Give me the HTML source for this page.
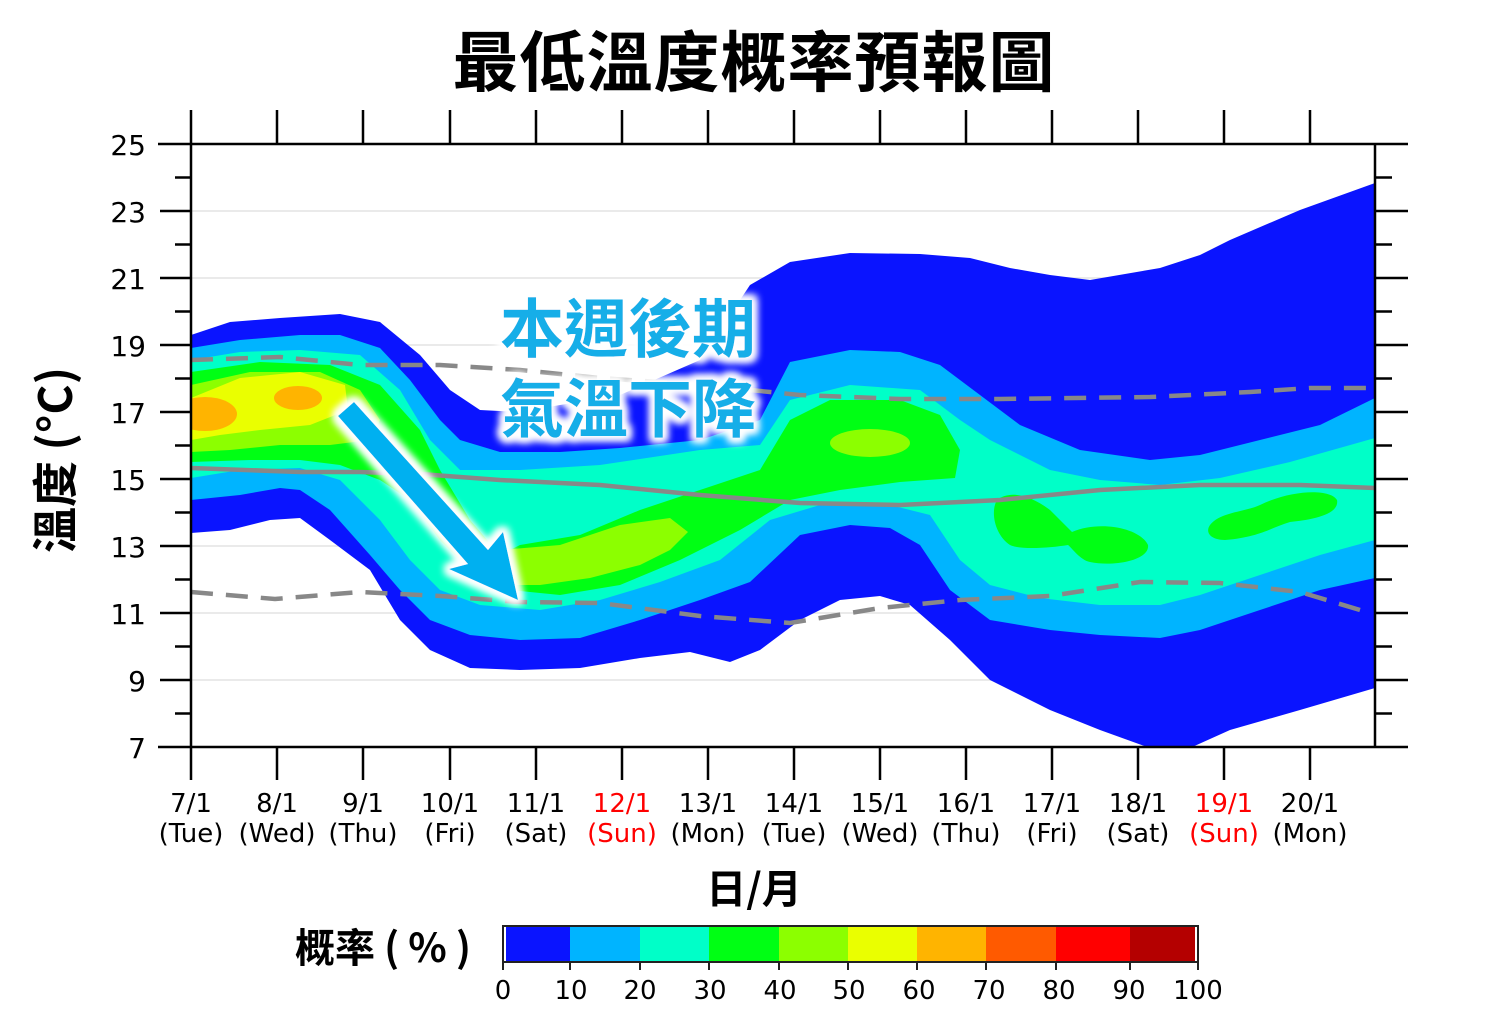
<!DOCTYPE html>
<html><head><meta charset="utf-8"><style>
body{margin:0;background:#fff;width:1508px;height:1018px;overflow:hidden}
svg{display:block}
text{font-family:"DejaVu Sans","Liberation Sans","Noto Sans CJK TC",sans-serif}
.cjk{font-family:"Noto Sans CJK TC","WenQuanYi Zen Hei",sans-serif}
</style></head><body>
<svg width="1508" height="1018" viewBox="0 0 1508 1018" xmlns="http://www.w3.org/2000/svg">
<defs>
<filter id="glow" x="-20%" y="-20%" width="140%" height="140%">
<feMorphology in="SourceAlpha" operator="dilate" radius="4" result="d"/>
<feGaussianBlur in="d" stdDeviation="4" result="b"/>
<feFlood flood-color="#fff"/><feComposite in2="b" operator="in" result="w"/>
<feMerge><feMergeNode in="w"/><feMergeNode in="w"/><feMergeNode in="SourceGraphic"/></feMerge>
</filter>
<clipPath id="pc"><rect x="191" y="144" width="1184" height="603"/></clipPath>
</defs>
<text x="754" y="86" text-anchor="middle" class="cjk" font-size="66" font-weight="bold" letter-spacing="1">最低溫度概率預報圖</text>
<g stroke="#e4e4e4" stroke-width="1.5">
<line x1="191" x2="1375" y1="211" y2="211"/><line x1="191" x2="1375" y1="278" y2="278"/><line x1="191" x2="1375" y1="345" y2="345"/><line x1="191" x2="1375" y1="412" y2="412"/><line x1="191" x2="1375" y1="479" y2="479"/><line x1="191" x2="1375" y1="546" y2="546"/><line x1="191" x2="1375" y1="613" y2="613"/><line x1="191" x2="1375" y1="680" y2="680"/>
</g>
<g clip-path="url(#pc)">
<path fill="#0a14ff" d="M191,335 L230,322 280,318 340,314 380,322 420,355 450,390 480,410 520,412 560,405 620,395 700,360 750,285 790,262 850,253 920,254 970,258 1010,268 1050,275 1090,280 1160,268 1200,255 1230,240 1300,210 1375,183 L1375,688 1300,710 1230,730 1190,748 1150,748 1100,730 1050,710 990,680 950,640 910,605 880,596 840,600 800,620 760,650 730,662 690,652 640,658 580,668 520,670 470,668 430,650 400,620 370,570 330,540 300,518 270,520 230,530 191,533 Z"/>
<path fill="#00b4ff" d="M191,348 L240,340 300,335 340,335 380,348 410,380 440,420 460,440 500,452 560,452 620,448 700,440 760,420 790,362 850,350 900,352 940,365 980,395 1020,425 1080,450 1150,460 1200,455 1260,440 1320,425 1375,398 L1375,578 1320,590 1260,610 1200,630 1160,638 1100,635 1050,630 990,620 950,590 920,545 890,528 850,525 800,535 750,582 700,600 640,620 580,638 520,640 470,635 430,620 400,590 370,555 330,510 300,490 280,488 240,495 191,500 Z"/>
<path fill="#00ffc8" d="M191,360 L240,352 300,350 360,355 400,390 430,440 460,470 520,470 600,465 700,450 760,445 790,400 850,385 920,390 960,420 990,440 1050,470 1100,480 1160,485 1220,478 1290,462 1375,438 L1375,540 1320,555 1260,575 1200,595 1160,605 1100,605 1040,598 990,585 960,560 930,515 890,505 820,505 770,520 720,560 660,582 600,600 540,610 480,605 440,590 410,560 380,520 340,480 300,468 240,470 191,478 Z"/>
<path fill="#00ff14" d="M191,372 L260,362 330,365 380,385 420,430 440,470 470,520 500,555 520,545 580,535 640,510 700,490 760,470 790,420 830,400 900,400 940,415 960,450 955,478 900,482 840,490 790,500 740,530 680,560 620,585 560,595 510,590 470,570 440,540 410,500 380,480 340,465 300,460 250,460 191,462 Z"/>
<path fill="#00ff14" d="M997,500 C1010,490 1030,495 1050,510 L1072,532 C1100,520 1140,528 1148,545 C1150,560 1115,567 1090,562 C1080,560 1072,548 1068,545 C1050,548 1020,550 1010,545 C995,535 990,512 997,500 Z"/>
<path fill="#00ff14" d="M1210,525 C1220,512 1245,512 1260,505 C1290,490 1330,488 1337,500 C1340,515 1310,520 1290,522 C1270,528 1260,537 1225,540 C1210,540 1205,532 1210,525 Z"/>
<path fill="#8cff00" d="M191,385 L250,372 320,372 360,390 380,420 370,440 330,445 280,445 230,450 191,452 Z"/>
<path fill="#8cff00" d="M500,550 L560,545 620,525 670,518 688,532 670,550 640,565 590,578 540,585 510,585 Z"/>
<ellipse cx="870" cy="443" rx="40" ry="14" fill="#8cff00"/>
<path fill="#eaff00" d="M191,398 L240,378 300,372 345,385 348,410 310,425 260,430 220,435 191,440 Z"/>
<ellipse cx="205" cy="414" rx="32" ry="17" fill="#ffb400"/>
<ellipse cx="298" cy="398" rx="24" ry="12" fill="#ffb400"/>
<g fill="none" stroke="#888" stroke-width="4.5">
<polyline points="191,468 300,472 360,472 420,474 500,480 600,485 700,495 800,503 900,505 1000,500 1100,490 1200,485 1300,485 1375,488"/>
<polyline stroke-dasharray="22,13" points="191,360 280,357 360,365 440,365 520,370 600,378 700,385 800,395 900,399 1000,399 1150,397 1250,392 1310,388 1375,388"/>
<polyline stroke-dasharray="22,13" points="191,592 275,599 360,592 440,596 520,602 600,603 700,616 790,623 880,608 960,600 1050,596 1140,582 1220,583 1300,592 1360,610"/>
</g>
</g>
<g filter="url(#glow)">
<polygon fill="#00b0f0" points="338,416 354,402 488,550 503,532 518,600 449,569 468,564" />
</g>
<g class="cjk" font-size="64" font-weight="bold" fill="#14aee8" filter="url(#glow)">
<text x="500" y="352" class="cjk">本週後期</text>
<text x="500" y="432" class="cjk">氣溫下降</text>
</g>
<g stroke="#000" stroke-width="2.5" fill="none">
<line x1="191" y1="144" x2="191" y2="747"/>
<line x1="1375" y1="144" x2="1375" y2="747"/>
<line x1="158" y1="144" x2="1408" y2="144"/>
<line x1="158" y1="747" x2="1408" y2="747"/>
</g>
<g stroke="#000" stroke-width="2.5">
<path d="M160,211H191M160,278H191M160,345H191M160,412H191M160,479H191M160,546H191M160,613H191M160,680H191"/>
<path d="M1375,211H1408M1375,278H1408M1375,345H1408M1375,412H1408M1375,479H1408M1375,546H1408M1375,613H1408M1375,680H1408"/>
<path d="M175,177.5H191M175,244.5H191M175,311.5H191M175,378.5H191M175,445.5H191M175,512.5H191M175,579.5H191M175,646.5H191M175,713.5H191"/>
<path d="M1375,177.5H1392M1375,244.5H1392M1375,311.5H1392M1375,378.5H1392M1375,445.5H1392M1375,512.5H1392M1375,579.5H1392M1375,646.5H1392M1375,713.5H1392"/>
<path d="M191,110V144M277,110V144M363,110V144M450,110V144M536,110V144M622,110V144M708,110V144M794,110V144M880,110V144M966,110V144M1052,110V144M1138,110V144M1224,110V144M1310,110V144"/>
<path d="M191,747V780M277,747V780M363,747V780M450,747V780M536,747V780M622,747V780M708,747V780M794,747V780M880,747V780M966,747V780M1052,747V780M1138,747V780M1224,747V780M1310,747V780"/>
</g>
<g font-size="28" text-anchor="end">
<text x="146" y="155">25</text><text x="146" y="222">23</text><text x="146" y="289">21</text><text x="146" y="356">19</text><text x="146" y="423">17</text><text x="146" y="490">15</text><text x="146" y="557">13</text><text x="146" y="624">11</text><text x="146" y="691">9</text><text x="146" y="758">7</text>
</g>
<g font-size="26" text-anchor="middle">
<text x="191" y="812">7/1</text><text x="191" y="842">(Tue)</text>
<text x="277" y="812">8/1</text><text x="277" y="842">(Wed)</text>
<text x="363" y="812">9/1</text><text x="363" y="842">(Thu)</text>
<text x="450" y="812">10/1</text><text x="450" y="842">(Fri)</text>
<text x="536" y="812">11/1</text><text x="536" y="842">(Sat)</text>
<text x="622" y="812" fill="#f00">12/1</text><text x="622" y="842" fill="#f00">(Sun)</text>
<text x="708" y="812">13/1</text><text x="708" y="842">(Mon)</text>
<text x="794" y="812">14/1</text><text x="794" y="842">(Tue)</text>
<text x="880" y="812">15/1</text><text x="880" y="842">(Wed)</text>
<text x="966" y="812">16/1</text><text x="966" y="842">(Thu)</text>
<text x="1052" y="812">17/1</text><text x="1052" y="842">(Fri)</text>
<text x="1138" y="812">18/1</text><text x="1138" y="842">(Sat)</text>
<text x="1224" y="812" fill="#f00">19/1</text><text x="1224" y="842" fill="#f00">(Sun)</text>
<text x="1310" y="812">20/1</text><text x="1310" y="842">(Mon)</text>
</g>
<text x="754" y="903" text-anchor="middle" font-size="40" font-weight="bold" class="cjk">日/月</text>
<text transform="translate(72,460) rotate(-90)" text-anchor="middle" font-size="46" font-weight="bold" class="cjk">溫度 (°C)</text>
<text x="295" y="962" font-size="40" font-weight="bold" class="cjk">概率 ( % )</text>
<g>
<rect x="506" y="927" width="64" height="35" fill="#0a14ff"/>
<rect x="570" y="927" width="70" height="35" fill="#00b4ff"/>
<rect x="640" y="927" width="69" height="35" fill="#00ffc8"/>
<rect x="709" y="927" width="70" height="35" fill="#00ff14"/>
<rect x="779" y="927" width="69" height="35" fill="#8cff00"/>
<rect x="848" y="927" width="69" height="35" fill="#eaff00"/>
<rect x="917" y="927" width="69" height="35" fill="#ffb400"/>
<rect x="986" y="927" width="70" height="35" fill="#ff5a00"/>
<rect x="1056" y="927" width="74" height="35" fill="#ff0000"/>
<rect x="1130" y="927" width="65" height="35" fill="#b40000"/>
<rect x="503" y="926" width="695" height="36" fill="none" stroke="#222" stroke-width="2"/>
<path stroke="#222" stroke-width="2" d="M503,962V970M570,962V970M640,962V970M709,962V970M779,962V970M848,962V970M917,962V970M986,962V970M1056,962V970M1130,962V970M1198,962V970"/>
</g>
<g font-size="26" text-anchor="middle">
<text x="503" y="999">0</text><text x="571" y="999">10</text><text x="640" y="999">20</text><text x="710" y="999">30</text><text x="780" y="999">40</text><text x="849" y="999">50</text><text x="919" y="999">60</text><text x="989" y="999">70</text><text x="1059" y="999">80</text><text x="1129" y="999">90</text><text x="1198" y="999">100</text>
</g>
</svg>
</body></html>
